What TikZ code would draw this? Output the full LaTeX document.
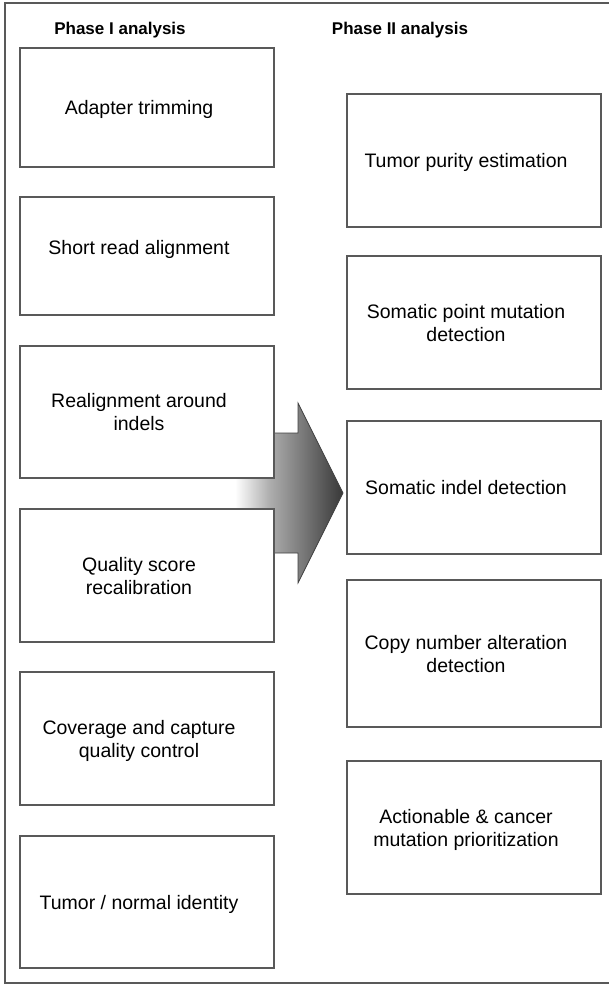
\documentclass[tikz,border=0pt]{standalone}
\usepackage{fontspec}
\setmainfont{Liberation Sans}

\pgfdeclarehorizontalshading{phasearrow}{100bp}{color(0bp)=(white); color(25bp)=(white); color(41bp)=(black!32); color(53bp)=(black!48); color(75bp)=(black!78); color(100bp)=(black!78)}

% box text sits a little left of and below the box centre
\newcommand{\boxlines}[2][2.5pt]{\raisebox{0pt}[\dimexpr\height+#1\relax][\dimexpr\depth-#1\relax]{\begin{tabular}{@{}c@{}}#2\end{tabular}}\hspace*{16pt}}

\begin{document}
\begin{tikzpicture}[x=1pt,y=-1pt,
    stepbox/.style={draw=black!65,line width=1.3pt,fill=white,minimum width=254pt,inner sep=0pt,font=\fontsize{19.5}{23}\selectfont},
    phasetitle/.style={font=\fontsize{17}{20}\selectfont\bfseries}]
    \useasboundingbox (0,0) rectangle (609,985);

    % Frame
    \draw[black!65,line width=1.5pt] (615,3) -- (5,3) -- (5,983) -- (615,983);

    % Big arrow, behind the boxes
    \shade[shading=phasearrow] (235,433) -- (298,433) -- (298,403) -- (343,493) -- (298,583) -- (298,553) -- (235,553) -- cycle;
    \draw[black!75,line width=0.7pt] (273,433) -- (298,433) -- (298,403) -- (343,493) -- (298,583) -- (298,553) -- (273,553);

    % Titles
    \node[phasetitle] (phaseone) at (120,30) {Phase I analysis};
    \node[phasetitle] (phasetwo) at (400,30) {Phase II analysis};

    % Phase I
    \node[stepbox,minimum height=119pt] (trim) at (147,107.5) {\boxlines{Adapter trimming}};
    \node[stepbox,minimum height=118pt] (align) at (147,256) {\boxlines[-6.5pt]{Short read alignment}};
    \node[stepbox,minimum height=132pt] (realign) at (147,412) {\boxlines{Realignment around\\indels}};
    \node[stepbox,minimum height=133pt] (recal) at (147,575.5) {\boxlines{Quality score\\recalibration}};
    \node[stepbox,minimum height=133pt] (coverage) at (147,738.5) {\boxlines{Coverage and capture\\quality control}};
    \node[stepbox,minimum height=132pt] (identity) at (147,902) {\boxlines{Tumor / normal identity}};

    % Phase II
    \node[stepbox,minimum height=133pt] (purity) at (474,160.5) {\boxlines{Tumor purity estimation}};
    \node[stepbox,minimum height=133pt] (point) at (474,322.5) {\boxlines{Somatic point mutation\\detection}};
    \node[stepbox,minimum height=133pt] (indel) at (474,487.5) {\boxlines{Somatic indel detection}};
    \node[stepbox,minimum height=147pt] (cna) at (474,653.5) {\boxlines{Copy number alteration\\detection}};
    \node[stepbox,minimum height=133pt] (prio) at (474,827.5) {\boxlines{Actionable \& cancer\\mutation prioritization}};
\end{tikzpicture}
\end{document}
